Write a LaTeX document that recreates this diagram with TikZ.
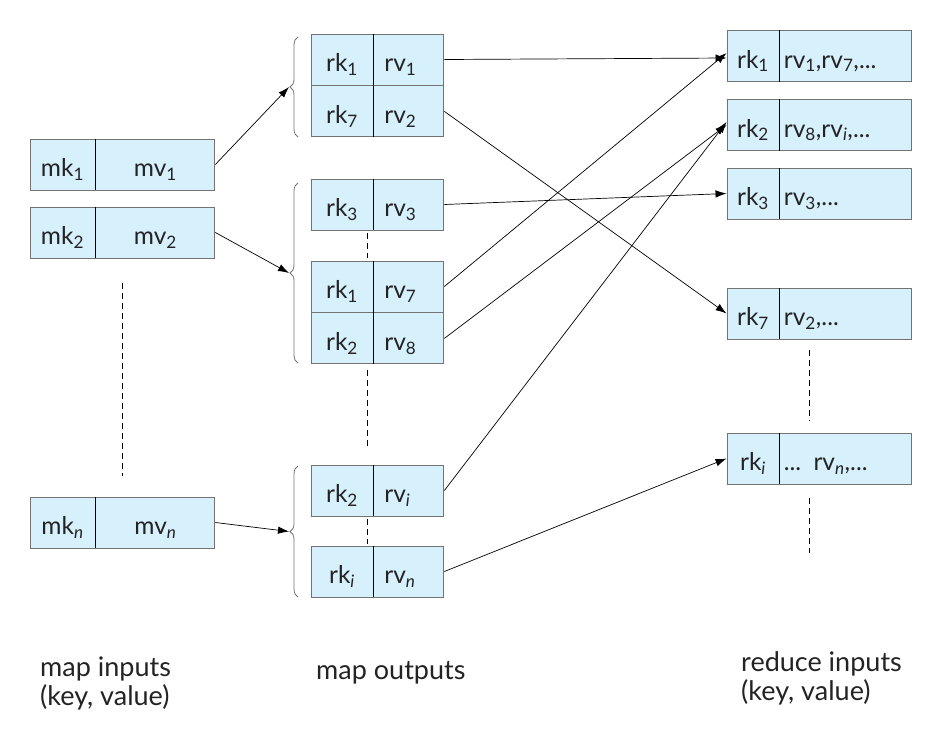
\documentclass[tikz,border=0pt]{standalone}
\usepackage{fontspec}
\setmainfont{Lato}
\usepackage{tikz}
\usetikzlibrary{positioning, arrows.meta, decorations.pathreplacing}
\definecolor{cellblue}{RGB}{214,240,252}
\definecolor{cellgray}{RGB}{115,115,115}
\definecolor{textgray}{RGB}{35,35,35}
\tikzset{cell/.style={rectangle, draw=cellgray, fill=cellblue, minimum height=51pt, inner sep=0pt, line width=0.9pt, text height=24pt, text depth=0pt, text=textgray, font=\fontsize{24.5}{28}\selectfont},
  in key/.style={cell, minimum width=65pt},
  in val/.style={cell, minimum width=119pt},
  out key/.style={cell, minimum width=62pt},
  out val/.style={cell, text width=49pt, inner xsep=10.5pt, align=left},
  red key/.style={cell, minimum width=52pt},
  red val/.style={cell, text width=124pt, inner xsep=4pt, align=left},
  caption/.style={align=left, anchor=north west, inner sep=0pt, text=textgray, font=\fontsize{27}{29}\selectfont},
  group brace/.style={draw=cellgray, line width=0.8pt, decorate, decoration={brace, amplitude=8pt}},
  dots line/.style={dash pattern=on 6pt off 4pt, line width=0.8pt},
  link/.style={-{Latex[length=11pt, width=7.5pt]}, line width=0.7pt}}
\newcommand{\sub}[1]{\textsubscript{#1}}
\newcommand{\isub}[1]{\textsubscript{\itshape #1}}

\begin{document}
\begin{tikzpicture}[x=1pt, y=-1pt]
        \useasboundingbox (0,0) rectangle (941,742);
        % Map inputs
        \node[in key] (mk1) at (62.5,164.5) {mk\sub{1}};
        \node[in val, right=0pt of mk1] (mv1) {mv\sub{1}};
        \node[in key] (mk2) at (62.5,232.5) {mk\sub{2}};
        \node[in val, right=0pt of mk2] (mv2) {mv\sub{2}};
        \node[in key] (mkn) at (62.5,522.5) {mk\isub{n}};
        \node[in val, right=0pt of mkn] (mvn) {mv\isub{n}};
        % Map outputs
        \node[out key] (rk1a) at (342,59.5) {rk\sub{1}};
        \node[out val, right=0pt of rk1a] (rv1) {rv\sub{1}};
        \node[out key, below=0pt of rk1a] (rk7) {rk\sub{7}};
        \node[out val, right=0pt of rk7] (rv2) {rv\sub{2}};
        \node[out key] (rk3) at (342,204.5) {rk\sub{3}};
        \node[out val, right=0pt of rk3] (rv3) {rv\sub{3}};
        \node[out key] (rk1b) at (342,286.5) {rk\sub{1}};
        \node[out val, right=0pt of rk1b] (rv7) {rv\sub{7}};
        \node[out key, below=0pt of rk1b] (rk2a) {rk\sub{2}};
        \node[out val, right=0pt of rk2a] (rv8) {rv\sub{8}};
        \node[out key] (rk2b) at (342,490.5) {rk\sub{2}};
        \node[out val, right=0pt of rk2b] (rvi) {rv\isub{i}};
        \node[out key] (rki) at (342,571.5) {rk\isub{i}};
        \node[out val, right=0pt of rki] (rvn) {rv\isub{n}};
        % Reduce inputs
        \node[red key] (r1) at (753,56) {rk\sub{1}};
        \node[red val, right=0pt of r1] (s1) {rv\sub{1},rv\sub{7},...};
        \node[red key] (r2) at (753,125) {rk\sub{2}};
        \node[red val, right=0pt of r2] (s2) {rv\sub{8},rv\isub{i},...};
        \node[red key] (r3) at (753,193.5) {rk\sub{3}};
        \node[red val, right=0pt of r3] (s3) {rv\sub{3},...};
        \node[red key] (r7) at (753,313.5) {rk\sub{7}};
        \node[red val, right=0pt of r7] (s7) {rv\sub{2},...};
        \node[red key] (ri) at (753,458.5) {rk\isub{i}};
        \node[red val, right=0pt of ri] (si) {... rv\isub{n},...};
        % Dividers
        \foreach \k in {mk1,mk2,mkn,rk1a,rk7,rk3,rk1b,rk2a,rk2b,rki,r1,r2,r3,r7,ri}
          \draw[line width=0.8pt] (\k.north east) -- (\k.south east);
        % Braces
        \draw[group brace] (298,137) -- (298,37);
        \draw[group brace] (298,363) -- (298,183);
        \draw[group brace] (298,597) -- (298,466);
        \coordinate (b1) at (289,87);
        \coordinate (b2) at (289,273);
        \coordinate (b3) at (289,531.5);
        % Dots
        \draw[dots line] (122,283) -- (122,476);
        \draw[dots line] (367,233) -- (367,258);
        \draw[dots line] (367,370) -- (367,447);
        \draw[dots line] (367,519) -- (367,544);
        \draw[dots line] (809,350) -- (809,421);
        \draw[dots line] (809,498) -- (809,553);
        % Paths
        \path
        (mv1.east) edge[link] (b1)
        (mv2.east) edge[link] (b2)
        (mvn.east) edge[link] (b3)
        (rv1.east) edge[link] ([yshift=-2pt]r1.west)
        (rv7.east) edge[link] ([yshift=3pt]r1.west)
        (rv2.east) edge[link] (r7.west)
        (rv3.east) edge[link] (r3.west)
        (rv8.east) edge[link] (r2.west)
        (rvi.east) edge[link] ([yshift=3pt]r2.west)
        (rvn.east) edge[link] (ri.west);
        % Captions
        \node[caption] (cin) at (40,657) {map inputs\\(key, value)};
        \node[caption] (cout) at (316,661) {map outputs};
        \node[caption] (cred) at (741,651) {reduce inputs\\(key, value)};
    \end{tikzpicture}
\end{document}
